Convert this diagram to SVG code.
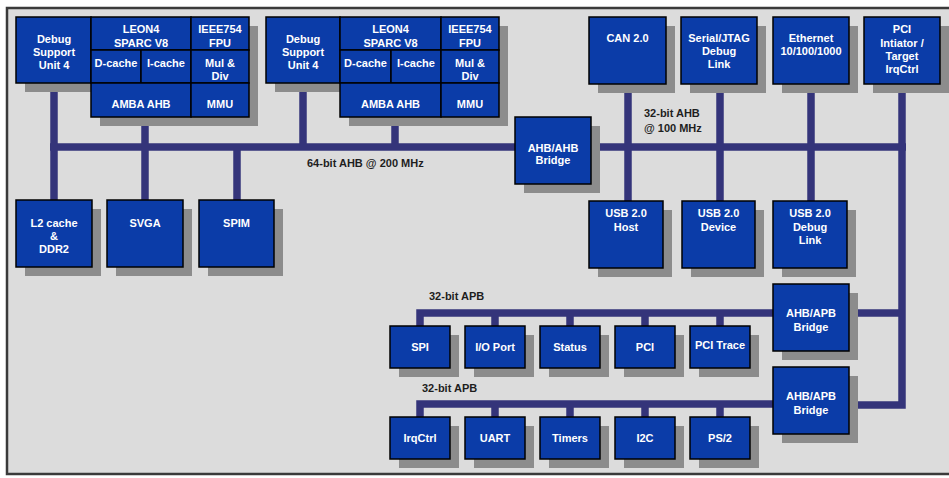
<svg xmlns="http://www.w3.org/2000/svg" width="949" height="478" viewBox="0 0 949 478">
<style>
.sh{fill:#8c8c8c}
.bx{fill:#0b3ca8;stroke:#000;stroke-width:1.5}
.t{font-family:"Liberation Sans",Arial,sans-serif;font-weight:bold;font-size:11px;fill:#fff;text-anchor:middle}
.lb{font-family:"Liberation Sans",Arial,sans-serif;font-weight:bold;font-size:11px;fill:#1e1e1e}
.bus{stroke:#34347a;stroke-width:7.5;fill:none;stroke-linejoin:miter;stroke-linecap:butt}
</style>
<rect x="0" y="0" width="949" height="478" fill="#fff"/>
<rect x="7" y="8" width="960" height="466" fill="#dcdcdc" stroke="#3a3a3a" stroke-width="2.5"/>

<g id="connectors">
  <path class="bus" d="M50 147 H906"/>
  <path class="bus" d="M54 83 V200"/>
  <path class="bus" d="M145 117 V200"/>
  <path class="bus" d="M237 147 V200"/>
  <path class="bus" d="M303 83 V147"/>
  <path class="bus" d="M395 117 V147"/>
  <path class="bus" d="M628 84 V201"/>
  <path class="bus" d="M720 84 V201"/>
  <path class="bus" d="M811 84 V201"/>
  <path class="bus" d="M902 84 V405 H849"/>
  <path class="bus" d="M849 313 H902"/>
  <path class="bus" d="M420 326 V313 H773"/>
  <path class="bus" d="M495 313 V326 M570 313 V326 M645 313 V326 M720 313 V326"/>
  <path class="bus" d="M420 417 V404 H773"/>
  <path class="bus" d="M495 404 V417 M570 404 V417 M645 404 V417 M720 404 V417"/>
</g>

<g id="labels">
  <text class="lb" x="307" y="167">64-bit AHB @ 200 MHz</text>
  <text class="lb" x="644" y="117">32-bit AHB</text>
  <text class="lb" x="644" y="132">@ 100 MHz</text>
  <text class="lb" x="429" y="300">32-bit APB</text>
  <text class="lb" x="422" y="392">32-bit APB</text>
</g>

<g id="dsu1">
  <rect class="sh" x="25" y="26" width="75" height="66"/>
  <rect class="bx" x="16" y="17" width="75" height="66"/>
  <text class="t" x="54" y="43">Debug</text>
  <text class="t" x="54" y="56">Support</text>
  <text class="t" x="54" y="69">Unit 4</text>
</g>
<g id="leon1">
  <rect class="sh" x="100" y="26" width="158" height="100"/>
  <rect class="bx" x="91" y="17" width="100" height="33"/>
  <rect class="bx" x="191" y="17" width="58" height="33"/>
  <rect class="bx" x="91" y="50" width="50" height="33"/>
  <rect class="bx" x="141" y="50" width="50" height="33"/>
  <rect class="bx" x="191" y="50" width="58" height="33"/>
  <rect class="bx" x="91" y="83" width="100" height="34"/>
  <rect class="bx" x="191" y="83" width="58" height="34"/>
  <text class="t" x="141" y="33">LEON4</text>
  <text class="t" x="141" y="47">SPARC V8</text>
  <text class="t" x="220" y="33">IEEE754</text>
  <text class="t" x="220" y="47">FPU</text>
  <text class="t" x="116" y="67">D-cache</text>
  <text class="t" x="166" y="67">I-cache</text>
  <text class="t" x="220" y="67">Mul &amp;</text>
  <text class="t" x="220" y="80">Div</text>
  <text class="t" x="141" y="108">AMBA AHB</text>
  <text class="t" x="220" y="108">MMU</text>
</g>

<g id="dsu2">
  <rect class="sh" x="275" y="26" width="74" height="66"/>
  <rect class="bx" x="266" y="17" width="74" height="66"/>
  <text class="t" x="303" y="43">Debug</text>
  <text class="t" x="303" y="56">Support</text>
  <text class="t" x="303" y="69">Unit 4</text>
</g>
<g id="leon2">
  <rect class="sh" x="349" y="26" width="159" height="100"/>
  <rect class="bx" x="340" y="17" width="101" height="33"/>
  <rect class="bx" x="441" y="17" width="58" height="33"/>
  <rect class="bx" x="340" y="50" width="51" height="33"/>
  <rect class="bx" x="391" y="50" width="50" height="33"/>
  <rect class="bx" x="441" y="50" width="58" height="33"/>
  <rect class="bx" x="340" y="83" width="101" height="34"/>
  <rect class="bx" x="441" y="83" width="58" height="34"/>
  <text class="t" x="390.5" y="33">LEON4</text>
  <text class="t" x="390.5" y="47">SPARC V8</text>
  <text class="t" x="470" y="33">IEEE754</text>
  <text class="t" x="470" y="47">FPU</text>
  <text class="t" x="365.5" y="67">D-cache</text>
  <text class="t" x="416" y="67">I-cache</text>
  <text class="t" x="470" y="67">Mul &amp;</text>
  <text class="t" x="470" y="80">Div</text>
  <text class="t" x="390.5" y="108">AMBA AHB</text>
  <text class="t" x="470" y="108">MMU</text>
</g>

<g id="ahb-ahb-bridge">
  <rect class="sh" x="524" y="126" width="76" height="67"/>
  <rect class="bx" x="515" y="117" width="76" height="67"/>
  <text class="t" x="553" y="152">AHB/AHB</text>
  <text class="t" x="553" y="164">Bridge</text>
</g>

<g id="can">
  <rect class="sh" x="598" y="26" width="77" height="67"/>
  <rect class="bx" x="589" y="17" width="77" height="67"/>
  <text class="t" x="627.5" y="42">CAN 2.0</text>
</g>
<g id="jtag">
  <rect class="sh" x="690" y="26" width="76" height="67"/>
  <rect class="bx" x="681" y="17" width="76" height="67"/>
  <text class="t" x="719" y="42">Serial/JTAG</text>
  <text class="t" x="719" y="55">Debug</text>
  <text class="t" x="719" y="68">Link</text>
</g>
<g id="ethernet">
  <rect class="sh" x="782" y="26" width="76" height="67"/>
  <rect class="bx" x="773" y="17" width="76" height="67"/>
  <text class="t" x="811" y="42">Ethernet</text>
  <text class="t" x="811" y="55">10/100/1000</text>
</g>
<g id="pci-target">
  <rect class="sh" x="873" y="26" width="76" height="67"/>
  <rect class="bx" x="864" y="17" width="76" height="67"/>
  <text class="t" x="902" y="33">PCI</text>
  <text class="t" x="902" y="47">Intiator /</text>
  <text class="t" x="902" y="60">Target</text>
  <text class="t" x="902" y="73">IrqCtrl</text>
</g>

<g id="l2cache">
  <rect class="sh" x="25" y="209" width="76" height="67"/>
  <rect class="bx" x="16" y="200" width="76" height="67"/>
  <text class="t" x="54" y="227">L2 cache</text>
  <text class="t" x="54" y="240">&amp;</text>
  <text class="t" x="54" y="253">DDR2</text>
</g>
<g id="svga">
  <rect class="sh" x="116" y="209" width="76" height="67"/>
  <rect class="bx" x="107" y="200" width="76" height="67"/>
  <text class="t" x="145" y="227">SVGA</text>
</g>
<g id="spim">
  <rect class="sh" x="208" y="209" width="75" height="67"/>
  <rect class="bx" x="199" y="200" width="75" height="67"/>
  <text class="t" x="236.5" y="227">SPIM</text>
</g>

<g id="usb-host">
  <rect class="sh" x="598" y="210" width="74" height="67"/>
  <rect class="bx" x="589" y="201" width="74" height="67"/>
  <text class="t" x="626" y="217">USB 2.0</text>
  <text class="t" x="626" y="231">Host</text>
</g>
<g id="usb-device">
  <rect class="sh" x="691" y="210" width="73" height="67"/>
  <rect class="bx" x="682" y="201" width="73" height="67"/>
  <text class="t" x="718.5" y="217">USB 2.0</text>
  <text class="t" x="718.5" y="231">Device</text>
</g>
<g id="usb-debug">
  <rect class="sh" x="782" y="210" width="74" height="67"/>
  <rect class="bx" x="773" y="201" width="74" height="67"/>
  <text class="t" x="810" y="217">USB 2.0</text>
  <text class="t" x="810" y="231">Debug</text>
  <text class="t" x="810" y="244">Link</text>
</g>

<g id="ahb-apb-bridge1">
  <rect class="sh" x="782" y="293" width="76" height="67"/>
  <rect class="bx" x="773" y="284" width="76" height="67"/>
  <text class="t" x="811" y="317">AHB/APB</text>
  <text class="t" x="811" y="331">Bridge</text>
</g>
<g id="ahb-apb-bridge2">
  <rect class="sh" x="782" y="376" width="76" height="67"/>
  <rect class="bx" x="773" y="367" width="76" height="67"/>
  <text class="t" x="811" y="400">AHB/APB</text>
  <text class="t" x="811" y="414">Bridge</text>
</g>

<g id="spi">
  <rect class="sh" x="399" y="335" width="60" height="42"/>
  <rect class="bx" x="390" y="326" width="60" height="42"/>
  <text class="t" x="420" y="351">SPI</text>
</g>
<g id="ioport">
  <rect class="sh" x="474" y="335" width="60" height="42"/>
  <rect class="bx" x="465" y="326" width="60" height="42"/>
  <text class="t" x="495" y="351">I/O Port</text>
</g>
<g id="status">
  <rect class="sh" x="549" y="335" width="60" height="42"/>
  <rect class="bx" x="540" y="326" width="60" height="42"/>
  <text class="t" x="570" y="351">Status</text>
</g>
<g id="pci">
  <rect class="sh" x="624" y="335" width="60" height="42"/>
  <rect class="bx" x="615" y="326" width="60" height="42"/>
  <text class="t" x="645" y="351">PCI</text>
</g>
<g id="pci-trace">
  <rect class="sh" x="699" y="335" width="60" height="42"/>
  <rect class="bx" x="690" y="326" width="60" height="42"/>
  <text class="t" x="720" y="349">PCI Trace</text>
</g>

<g id="irqctrl">
  <rect class="sh" x="399" y="426" width="60" height="42"/>
  <rect class="bx" x="390" y="417" width="60" height="42"/>
  <text class="t" x="420" y="442">IrqCtrl</text>
</g>
<g id="uart">
  <rect class="sh" x="474" y="426" width="60" height="42"/>
  <rect class="bx" x="465" y="417" width="60" height="42"/>
  <text class="t" x="495" y="442">UART</text>
</g>
<g id="timers">
  <rect class="sh" x="549" y="426" width="60" height="42"/>
  <rect class="bx" x="540" y="417" width="60" height="42"/>
  <text class="t" x="570" y="442">Timers</text>
</g>
<g id="i2c">
  <rect class="sh" x="624" y="426" width="60" height="42"/>
  <rect class="bx" x="615" y="417" width="60" height="42"/>
  <text class="t" x="645" y="442">I2C</text>
</g>
<g id="ps2">
  <rect class="sh" x="699" y="426" width="60" height="42"/>
  <rect class="bx" x="690" y="417" width="60" height="42"/>
  <text class="t" x="720" y="442">PS/2</text>
</g>
</svg>
